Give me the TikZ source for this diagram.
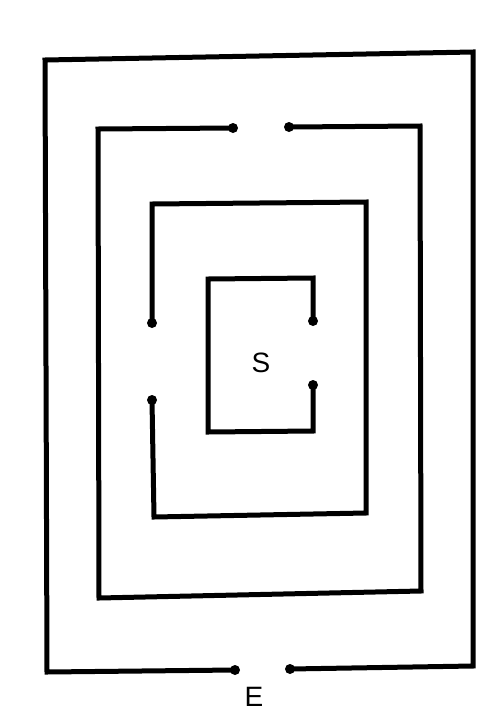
\documentclass[tikz,border=0pt]{standalone}
\usepackage{fontspec}
\setmainfont{Liberation Sans}
\begin{document}
\begin{tikzpicture}[x=1pt,y=-1pt,
  wall/.style={line width=5pt,line join=miter,draw=black},
  enddot/.style={circle,fill=black,inner sep=0pt,minimum size=10pt},
  lbl/.style={font=\fontsize{28}{32}\selectfont,inner sep=0pt}]
\useasboundingbox[fill=white] (0,0) rectangle (499,713);
% outer wall
\coordinate (o1) at (235,670);
\coordinate (o2) at (290,669);
\draw[wall] (o1) -- (47,672) -- (45,60) -- (473,52) -- (473,666) -- (o2);
% second wall
\coordinate (s1) at (233,128);
\coordinate (s2) at (289,127);
\draw[wall] (s1) -- (98,129) -- (99,598) -- (421,591) -- (420,126) -- (s2);
% third wall
\coordinate (t1) at (152,323);
\coordinate (t2) at (152,400);
\draw[wall] (t1) -- (152,204) -- (366,202) -- (366,513) -- (154,517) -- (t2);
% inner wall
\coordinate (i1) at (313,321);
\coordinate (i2) at (313,385);
\draw[wall] (i1) -- (313,278) -- (208,279) -- (208,432) -- (313,431) -- (i2);
% end dots
\foreach \p in {o1,o2,s1,s2,t1,t2,i1,i2} \node[enddot] at (\p) {};
\node[lbl] (S) at (261,363) {S};
\node[lbl] (E) at (254,697) {E};
\end{tikzpicture}
\end{document}
